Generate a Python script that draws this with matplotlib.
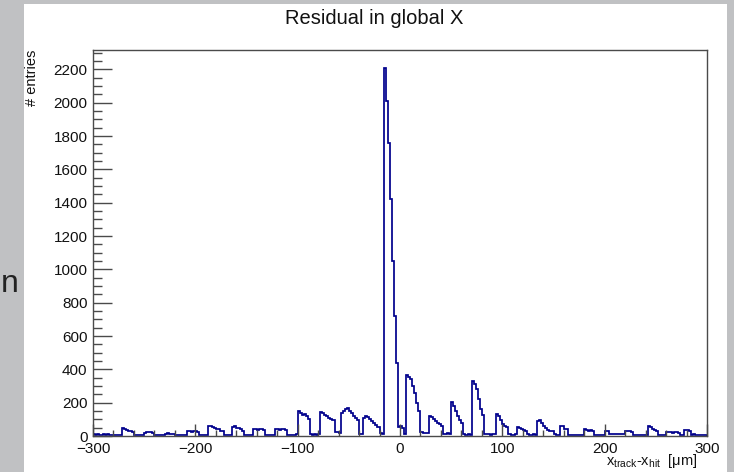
import matplotlib
matplotlib.use("Agg")
import matplotlib.pyplot as plt
from matplotlib.patches import Rectangle
from matplotlib.ticker import MultipleLocator
import numpy as np

plt.rcParams['font.family'] = ['Liberation Sans', 'DejaVu Sans']
plt.rcParams['mathtext.fontset'] = 'custom'
plt.rcParams['mathtext.rm'] = 'Liberation Sans'
plt.rcParams['mathtext.it'] = 'Liberation Sans'

# --- Histogram: residual in global X, 2 um bins from -300 to 300 ---
x_min, x_max, bin_w = -300, 300, 2
edges = np.arange(x_min, x_max + bin_w, bin_w)

# one row = 10 bins = 20 um
counts = [
    12, 8, 10, 6, 9, 11, 7, 10, 8, 5,              # -300 .. -280
    6, 8, 5, 7, 48, 44, 36, 32, 28, 22,            # -280 .. -260
    6, 4, 7, 5, 8, 20, 26, 22, 24, 18,             # -260 .. -240
    6, 5, 8, 4, 7, 12, 16, 14, 15, 12,             # -240 .. -220
    5, 7, 4, 6, 8, 5, 28, 32, 26, 30,              # -220 .. -200
    28, 22, 6, 5, 8, 6, 58, 62, 52, 48,            # -200 .. -180
    44, 40, 32, 28, 6, 8, 5, 7, 54, 58,            # -180 .. -160
    48, 50, 42, 32, 8, 5, 7, 6, 40, 42,            # -160 .. -140
    38, 42, 40, 38, 8, 6, 5, 8, 6, 40,             # -140 .. -120
    42, 38, 40, 42, 38, 8, 6, 9, 7, 12,            # -120 .. -100
    152, 140, 128, 135, 118, 105, 10, 8, 12, 9,    # -100 .. -80
    14, 144, 138, 125, 120, 110, 104, 98, 24, 22,  # -80 .. -60
    20, 140, 152, 164, 166, 150, 138, 120, 110, 96,  # -60 .. -40
    14, 12, 110, 120, 112, 100, 92, 80, 66, 56,    # -40 .. -20
    16, 14, 2206, 2010, 1760, 1420, 1050, 720, 440, 52,  # -20 .. 0
    58, 48, 14, 368, 355, 340, 300, 256, 200, 150,  # 0 .. 20
    24, 16, 18, 20, 118, 112, 100, 92, 80, 70,     # 20 .. 40
    62, 14, 12, 16, 10, 204, 180, 150, 120, 96,    # 40 .. 60
    76, 10, 8, 12, 6, 330, 315, 280, 220, 160,     # 60 .. 80
    126, 14, 10, 12, 8, 14, 10, 132, 120, 96,      # 80 .. 100
    70, 60, 52, 10, 8, 6, 10, 54, 48, 40,          # 100 .. 120
    36, 28, 10, 8, 6, 10, 8, 92, 96, 80,           # 120 .. 140
    62, 48, 36, 30, 28, 10, 8, 6, 58, 60,          # 140 .. 160
    44, 40, 8, 6, 8, 5, 7, 6, 8, 6,                # 160 .. 180
    40, 36, 32, 34, 30, 8, 6, 8, 5, 7,             # 180 .. 200
    30, 28, 10, 12, 14, 12, 10, 14, 12, 10,        # 200 .. 220
    30, 28, 32, 26, 6, 5, 7, 5, 6, 8,              # 220 .. 240
    6, 58, 54, 42, 36, 30, 8, 6, 7, 5,             # 240 .. 260
    24, 22, 26, 20, 24, 22, 18, 6, 8, 36,          # 260 .. 280
    34, 30, 8, 10, 6, 8, 7, 9, 6, 5,               # 280 .. 300
]

title = "Residual in global X"
x_title = r"$\mathrm{x}_{\mathrm{track}}$-$\mathrm{x}_{\mathrm{hit}}$  [$\mathrm{\mu}$m]"
y_title = "# entries"
line_col = "#00008c"
frame_col = "#4a4a4a"
# -------------------

W, H = 734, 472
fig = plt.figure(figsize=(W / 100, H / 100), dpi=100, facecolor="#c0c1c3")

# white canvas on grey window
fig.patches.append(Rectangle((24 / W, 0), (727 - 24) / W, (H - 4) / H,
                             transform=fig.transFigure, facecolor="white",
                             edgecolor="none", zorder=-10))
fig.text(10 / W, 1 - 284 / H, "n", fontsize=23, ha="center", va="center",
         color="#222222")

ax = fig.add_axes([93 / W, (H - 436) / H, 614 / W, 386 / H])
ax.set_facecolor("white")
ax.stairs(counts, edges, color=line_col, linewidth=1.25)

ax.set_xlim(x_min, x_max)
ax.set_ylim(0, max(counts) * 1.05)

ax.xaxis.set_major_locator(MultipleLocator(100))
ax.xaxis.set_minor_locator(MultipleLocator(20))
ax.yaxis.set_major_locator(MultipleLocator(200))
ax.yaxis.set_minor_locator(MultipleLocator(50))

for s in ax.spines.values():
    s.set_color(frame_col)
    s.set_linewidth(1.0)

ax.tick_params(axis="both", which="both", direction="in", color=frame_col,
               labelsize=11, labelcolor="#111111", width=1.0)
ax.tick_params(axis="y", which="major", length=13.5, pad=4)
ax.tick_params(axis="y", which="minor", length=6.5)
ax.tick_params(axis="x", which="major", length=8.5, pad=4)
ax.tick_params(axis="x", which="minor", length=4.3)

# titles placed like the ROOT canvas
fig.text(374 / W, 1 - 19 / H, title, fontsize=14.5, ha="center", va="center",
         color="#111111")
fig.text(32 / W, 1 - 50 / H, y_title, fontsize=10.5, rotation=90,
         ha="center", va="top", color="#111111")
fig.text(697 / W, 1 - 461 / H, x_title, fontsize=10.5, ha="right",
         va="center", color="#111111")

fig.savefig("out.png", dpi=100, facecolor=fig.get_facecolor())
